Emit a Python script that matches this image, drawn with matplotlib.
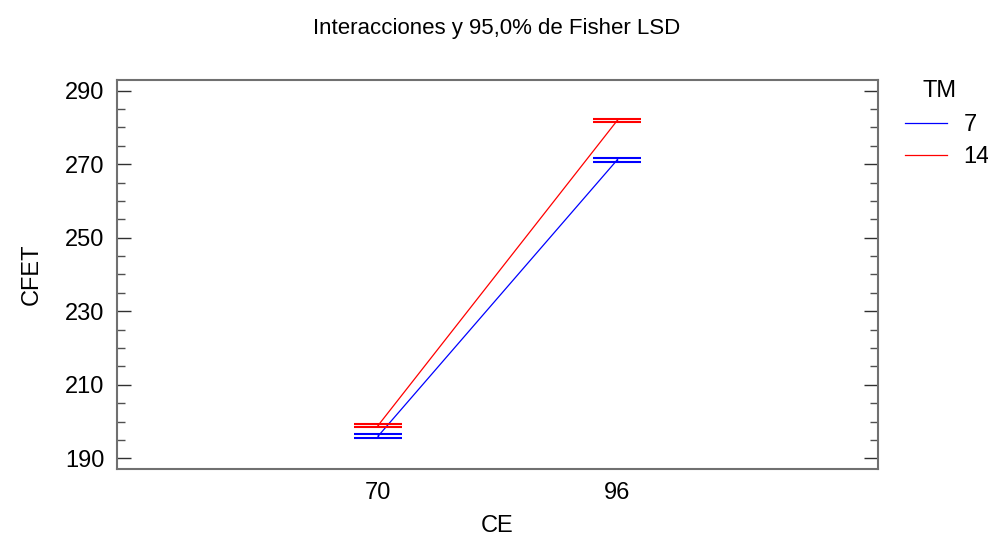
import matplotlib
matplotlib.use("Agg")
import matplotlib.pyplot as plt
from matplotlib.lines import Line2D
from matplotlib.ticker import MultipleLocator

plt.rcParams['font.family'] = ['Liberation Sans', 'DejaVu Sans']

# Data
ce_levels = [70, 96]
ce_labels = ["70", "96"]
tm_levels = ["7", "14"]
means = {"7": [196.0, 271.1], "14": [198.9, 281.8]}
half_lsd = {"7": [0.54, 0.45], "14": [0.33, 0.45]}
colors = {"7": "#0000ff", "14": "#ff0000"}

fig = plt.figure(figsize=(9.88, 5.39), dpi=100)
ax = fig.add_axes([0.1184, 0.1293, 0.7703, 0.7223])

cap_half = 2.56
for tm in tm_levels:
    c = colors[tm]
    ax.plot(ce_levels, means[tm], color=c, lw=0.9)
    for x, m, h in zip(ce_levels, means[tm], half_lsd[tm]):
        ax.hlines([m - h, m + h], x - cap_half, x + cap_half, color=c, lw=1.5)
        ax.vlines(x, m - h, m + h, color=c, lw=1.0)

ax.set_xlim(41.6, 124.4)
ax.set_ylim(187.0, 292.9)
ax.set_xticks(ce_levels)
ax.set_xticklabels(ce_labels)
ax.yaxis.set_major_locator(MultipleLocator(20))
ax.yaxis.set_minor_locator(MultipleLocator(5))
ax.set_yticks([190, 210, 230, 250, 270, 290])

ax.tick_params(axis='y', which='major', direction='in', length=10, width=1.0,
               color='#303030', labelsize=17, pad=9, left=True, right=True)
ax.tick_params(axis='y', which='minor', direction='in', length=5.5, width=1.0,
               color='#505050', left=True, right=True)
ax.tick_params(axis='x', length=0, labelsize=17, pad=9)

for s in ax.spines.values():
    s.set_color('#707070')
    s.set_linewidth(1.5)

ax.set_ylabel("CFET", fontsize=17, labelpad=16)
ax.set_xlabel("CE", fontsize=17, labelpad=8)
fig.text(0.503, 0.947, "Interacciones y 95,0% de Fisher LSD", fontsize=16,
         ha='center', va='center')

# Legend drawn manually in figure coordinates
fig.text(0.951, 0.832, "TM", fontsize=17, ha='center', va='center')
for i, tm in enumerate(tm_levels):
    yy = 0.772 - i * 0.059
    fig.add_artist(Line2D([0.916, 0.958], [yy, yy], color=colors[tm], lw=0.9,
                          transform=fig.transFigure))
    fig.text(0.975, yy - 0.004, tm, fontsize=17, ha='left', va='center')

fig.savefig("out.png", dpi=100)
